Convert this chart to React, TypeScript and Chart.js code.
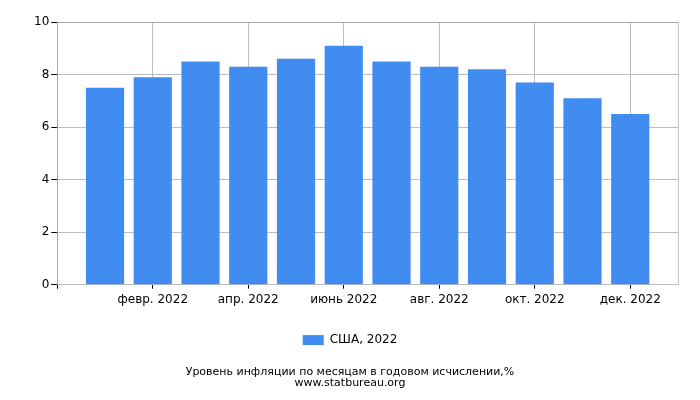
import React, { useEffect, useRef } from "react";
import { Chart, registerables } from "chart.js";

Chart.register(...registerables);

const monthPositions = [1, 2, 3, 4, 5, 6, 7, 8, 9, 10, 11, 12];
const monthLabels = [
  "янв. 2022", "февр. 2022", "март 2022", "апр. 2022", "май 2022", "июнь 2022",
  "июль 2022", "авг. 2022", "сент. 2022", "окт. 2022", "нояб. 2022", "дек. 2022",
];
const inflationUSA2022 = [7.5, 7.9, 8.5, 8.3, 8.6, 9.1, 8.5, 8.3, 8.2, 7.7, 7.1, 6.5];
const seriesLabel = "США, 2022";
const titleLines = ["Уровень инфляции по месяцам в годовом исчислении,%", "www.statbureau.org"];

const FONT = "'DejaVu Sans', sans-serif";

export default function App() {
  const ref = useRef<HTMLCanvasElement | null>(null);

  useEffect(() => {
    if (!ref.current) return;
    const chart = new Chart(ref.current, {
      type: "bar",
      data: {
        datasets: [
          {
            label: seriesLabel,
            data: monthPositions.map((m, i) => ({ x: m, y: inflationUSA2022[i] })),
            backgroundColor: "#418CF0",
            borderWidth: 0,
            categoryPercentage: 0.8,
            barPercentage: 1.0,
          },
        ],
      },
      options: {
        responsive: false,
        animation: false,
        layout: { padding: { top: 22, right: 22, left: 22, bottom: 12 } },
        plugins: {
          tooltip: { enabled: false },
          legend: {
            position: "bottom",
            labels: {
              boxWidth: 21,
              boxHeight: 10,
              color: "#000",
              font: { family: FONT, size: 12 },
              padding: 12,
            },
          },
          title: {
            display: true,
            position: "bottom",
            text: titleLines,
            color: "#000",
            font: { family: FONT, size: 11, weight: "normal", lineHeight: 0.95 },
            padding: { top: 11, bottom: 0 },
          },
        },
        scales: {
          x: {
            type: "linear",
            min: 0,
            max: 13,
            offset: false,
            afterFit: (scale: any) => {
              scale.height += 11;
            },
            grid: {
              offset: false,
              drawOnChartArea: true,
              tickLength: 4,
              color: (ctx: any) => {
                const v = ctx.tick ? ctx.tick.value : 0;
                if (v === 13) return "#c8c8c8";
                if (v > 0 && v % 2 === 0) return "#bdbdbd";
                return "rgba(0,0,0,0)";
              },
              tickColor: (ctx: any) => {
                const v = ctx.tick ? ctx.tick.value : 0;
                if (v % 2 === 0 && v <= 12) return "#000";
                return "rgba(0,0,0,0)";
              },
            },
            border: { color: "#bdbdbd", width: 1 },
            ticks: {
              stepSize: 1,
              autoSkip: false,
              maxRotation: 0,
              padding: 4,
              color: "#000",
              font: { family: FONT, size: 12 },
              callback: (v: any) => {
                const n = Number(v);
                if (n >= 2 && n <= 12 && n % 2 === 0) return monthLabels[n - 1];
                return "";
              },
            },
          },
          y: {
            min: 0,
            max: 10,
            afterFit: (scale: any) => {
              scale.width += 10;
            },
            grid: {
              tickLength: 6,
              color: (ctx: any) => (ctx.tick && ctx.tick.value === 10 ? "#a8a8a8" : "#bdbdbd"),
              tickColor: "#000",
            },
            border: { color: "#a8a8a8", width: 1 },
            ticks: {
              stepSize: 2,
              padding: 2,
              color: "#000",
              font: { family: FONT, size: 12 },
            },
          },
        },
      },
    });
    return () => chart.destroy();
  }, []);

  return (
    <div style={{ position: "fixed", left: 0, top: 0, width: 700, height: 400, background: "#fff" }}>
      <canvas ref={ref} width={700} height={400} style={{ width: 700, height: 400 }} />
    </div>
  );
}
